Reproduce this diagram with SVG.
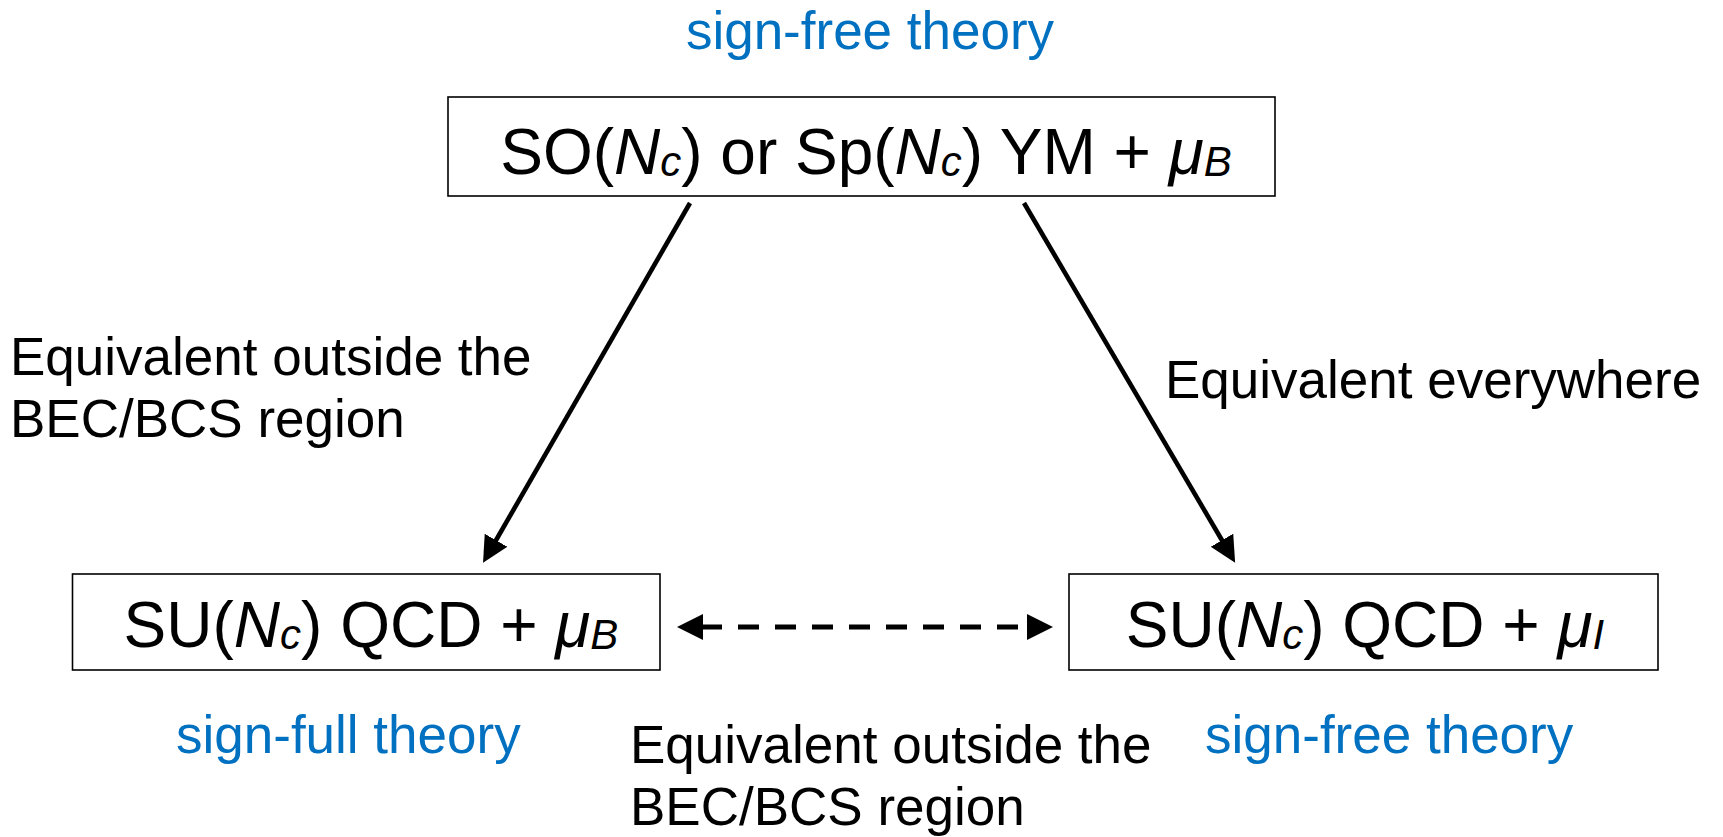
<svg xmlns="http://www.w3.org/2000/svg" width="1723" height="837" viewBox="0 0 1723 837">
<style>
.box{fill:#fff;stroke:#000;stroke-width:1.6}
.big{font-family:"Liberation Sans",Arial,sans-serif;font-size:64px;fill:#000}
.lbl{font-family:"Liberation Sans",Arial,sans-serif;font-size:53px;fill:#000}
.blue{font-family:"Liberation Sans",Arial,sans-serif;font-size:53px;fill:#0070C0}
.it{font-style:italic}
.sub{font-style:italic;font-size:42px}
.conn{stroke:#000;stroke-width:4.6;fill:none}
.dash{stroke:#000;stroke-width:5;fill:none;stroke-dasharray:21 16}
</style>
<defs>
<marker id="ah" markerUnits="userSpaceOnUse" markerWidth="28" markerHeight="28" refX="2" refY="13" orient="auto-start-reverse" viewBox="0 0 28 28">
<path d="M0,0 L26,13 L0,26 z" fill="#000"/>
</marker>
</defs>
<rect width="1723" height="837" fill="#fff"/>
<g id="connectors">
<line class="conn" x1="690" y1="203" x2="495" y2="542" marker-end="url(#ah)"/>
<line class="conn" x1="1024" y1="203" x2="1223" y2="542" marker-end="url(#ah)"/>
<line class="dash" x1="701" y1="627" x2="1029" y2="627" marker-start="url(#ah)" marker-end="url(#ah)"/>
</g>
<g id="top-node">
<rect class="box" x="448" y="97" width="827" height="99"/>
<text class="big" x="866" y="174" text-anchor="middle">SO(<tspan class="it">N</tspan><tspan class="sub" dy="2">c</tspan><tspan dy="-2">) or Sp(</tspan><tspan class="it">N</tspan><tspan class="sub" dy="2">c</tspan><tspan dy="-2">) YM + </tspan><tspan class="it">μ</tspan><tspan class="sub" dy="2">B</tspan></text>
</g>
<g id="top-label">
<text class="blue" x="870" y="49" text-anchor="middle">sign-free theory</text>
</g>
<g id="left-node">
<rect class="box" x="72.5" y="574" width="587.5" height="96"/>
<text class="big" x="371" y="647" text-anchor="middle">SU(<tspan class="it">N</tspan><tspan class="sub" dy="2">c</tspan><tspan dy="-2">) QCD + </tspan><tspan class="it">μ</tspan><tspan class="sub" dy="2">B</tspan></text>
</g>
<g id="right-node">
<rect class="box" x="1069" y="574" width="589" height="96"/>
<text class="big" x="1365" y="647" text-anchor="middle">SU(<tspan class="it">N</tspan><tspan class="sub" dy="2">c</tspan><tspan dy="-2">) QCD + </tspan><tspan class="it">μ</tspan><tspan class="sub" dy="2">I</tspan></text>
</g>
<g id="labels">
<text class="lbl" x="10" y="375">Equivalent outside the</text>
<text class="lbl" x="10" y="437">BEC/BCS region</text>
<text class="lbl" x="1165" y="398">Equivalent everywhere</text>
<text class="lbl" x="630" y="763">Equivalent outside the</text>
<text class="lbl" x="630" y="825">BEC/BCS region</text>
<text class="blue" x="176" y="753">sign-full theory</text>
<text class="blue" x="1205" y="753">sign-free theory</text>
</g>
</svg>
